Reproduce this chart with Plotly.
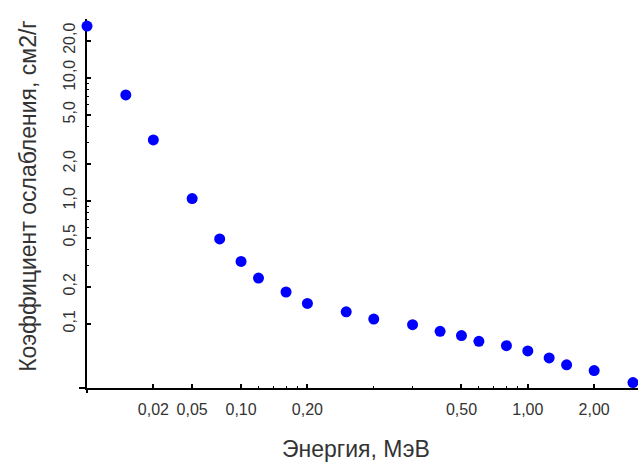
import math
import plotly.graph_objects as go

# Data (energy in MeV, attenuation coefficient in cm2/g)
energy = [0.01, 0.015, 0.02, 0.03, 0.04, 0.05, 0.06, 0.08, 0.1, 0.15, 0.2,
          0.3, 0.4, 0.5, 0.6, 0.8, 1.0, 1.25, 1.5, 2.0, 3.0]
coef = [26.3, 7.24, 3.12, 1.04, 0.489, 0.321, 0.235, 0.181, 0.146, 0.125, 0.109,
        0.0982, 0.0867, 0.0800, 0.0719, 0.0663, 0.0601, 0.0527, 0.0463, 0.0416, 0.0332]

# Tick marks as they appear in the reference
x_tick_vals = [0.02, 0.03, 0.05, 0.1, 0.5, 1.0, 2.0]
x_tick_text = ["0,02", "0,05", "0,10", "0,20", "0,50", "1,00", "2,00"]
x_minor_vals = [0.06, 0.07, 0.08, 0.09, 0.2, 0.3, 0.6, 0.7, 0.8, 0.9]

y_tick_vals = [0.1, 0.2, 0.5, 1, 2, 5, 10, 20]
y_tick_text = ["0,1", "0,2", "0,5", "1,0", "2,0", "5,0", "10,0", "20,0"]
y_minor_vals = [0.3, 0.4, 0.6, 0.7, 0.8, 0.9, 3, 4, 6, 7, 8, 9]

x_title = "Энергия, МэВ"
y_title = "Коэффициент ослабления, см2/г"

FONT = "Liberation Sans, Arial, sans-serif"
TXT = "#333333"

fig = go.Figure(go.Scatter(
    x=energy, y=coef, mode="markers",
    marker=dict(color="#0000FF", size=11, line=dict(width=0)),
    cliponaxis=False, showlegend=False,
))

axis_common = dict(
    type="log", showgrid=False, zeroline=False, automargin=False,
    showline=True, linecolor="black", linewidth=2,
    ticks="inside", ticklen=4, tickwidth=2, tickcolor="black",
    tickmode="array", layer="below traces",
    tickfont=dict(family=FONT, size=16, color=TXT),
)

fig.update_xaxes(
    **axis_common,
    range=[-2, 0.5],
    tickvals=x_tick_vals, ticktext=x_tick_text,
    ticklabelstandoff=6,
    minor=dict(tickmode="array", tickvals=x_minor_vals, ticks="inside",
               ticklen=2, tickwidth=1, tickcolor="black", showgrid=False),
)
fig.update_yaxes(
    **axis_common,
    range=[math.log10(0.03), math.log10(30)],
    tickvals=y_tick_vals, ticktext=y_tick_text, tickangle=-90,
    ticklabelstandoff=4,
    minor=dict(tickmode="array", tickvals=y_minor_vals, ticks="inside",
               ticklen=2, tickwidth=1, tickcolor="black", showgrid=False),
)

fig.update_layout(
    width=638, height=463,
    margin=dict(l=87, r=0, t=19, b=75, pad=0),
    paper_bgcolor="white", plot_bgcolor="white",
    font=dict(family=FONT, color=TXT),
    annotations=[
        dict(text=x_title, xref="paper", yref="paper", x=0.489, y=-0.166,
             xanchor="center", yanchor="middle", showarrow=False,
             font=dict(family=FONT, size=23, color=TXT)),
        dict(text=y_title, xref="paper", yref="paper", x=-0.1062, y=0.522,
             xanchor="center", yanchor="middle", showarrow=False, textangle=-90,
             font=dict(family=FONT, size=23, color=TXT)),
    ],
    shapes=[
        # small overhang of the axis lines past the origin
        dict(type="line", xref="paper", yref="paper", xsizemode="pixel", xanchor=0,
             x0=-8, x1=0, y0=0, y1=0, line=dict(color="black", width=2)),
        dict(type="line", xref="paper", yref="paper", ysizemode="pixel", yanchor=0,
             x0=0, x1=0, y0=-5, y1=0, line=dict(color="black", width=2)),
    ],
)

fig.write_html(
    "out.html",
    config={"displayModeBar": False},
    post_script="document.body.style.margin='0';document.body.style.overflow='hidden';",
)
